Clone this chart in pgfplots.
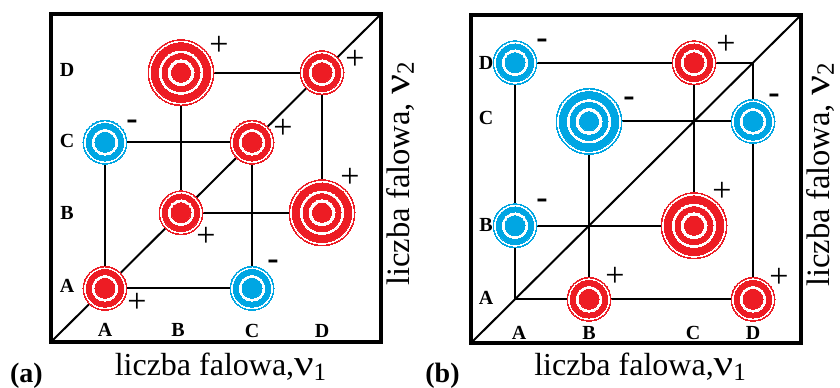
\documentclass[border=0pt]{standalone}
\usepackage{fontspec}
\setmainfont{Liberation Serif}
\usepackage{graphicx}
\usepackage{pgfplots}
\pgfplotsset{compat=1.18}
\usepackage{pgfplotstable}
\definecolor{tred}{RGB}{237,28,36}
\definecolor{tblue}{RGB}{0,166,227}

% panel (a) targets: x y
\pgfplotstableread{
x y
54 54
130 130
201 201
271 271
}\aRedN
\pgfplotstableread{
x y
130 271
271 130
}\aRedB
\pgfplotstableread{
x y
201 54
54 201
}\aBlueN
% panel (b) targets
\pgfplotstableread{
x y
118 44
282 44
223 282
}\bRedN
\pgfplotstableread{
x y
223 118
}\bRedB
\pgfplotstableread{
x y
44 282
44 118
282 223
}\bBlueN
\pgfplotstableread{
x y
118 223
}\bBlueB

\newcommand\ring[3]{\addplot[#3, only marks, mark=*, mark size=#2, mark options={draw=#3, fill=#3, line width=0pt, solid}] table {#1};}
\newcommand\normtarget[2]{\ring{#1}{11pt}{#2}\ring{#1}{10.2pt}{white}\ring{#1}{9.4pt}{#2}\ring{#1}{6.4pt}{white}\ring{#1}{5pt}{#2}}
\newcommand\bigtarget[2]{\ring{#1}{16.5pt}{#2}\ring{#1}{15.7pt}{white}\ring{#1}{14.9pt}{#2}\ring{#1}{10.8pt}{white}\ring{#1}{9.5pt}{#2}\ring{#1}{6.5pt}{white}\ring{#1}{4.8pt}{#2}}

\newcommand\nulab[1]{\scalebox{1.35}[1.15]{ν}\raisebox{-0.15em}{\fontsize{12.5}{12}\selectfont #1}}
\newcommand\plus{\fontsize{17}{17}\selectfont +}
\newcommand\minus{\fontsize{17}{17}\selectfont\bfseries -}

\pgfplotsset{panel/.style={
  scale only axis, width=165pt, height=164pt,
  xmin=0, xmax=330, ymin=0, ymax=330,
  xtick=\empty, ytick=\empty, clip=false,
  axis line style={line width=1.6pt},
  every node/.append style={inner sep=0pt},
}}

\begin{document}
\begin{tikzpicture}
\useasboundingbox (0,0) rectangle (420pt,193.5pt);
% ---------------- panel (a)
\begin{axis}[panel, at={(25.5pt,22.5pt)}, anchor=south west]
\addplot[black, line width=1pt] coordinates {(0,0) (330,330)};
\addplot[black, line width=0.9pt] coordinates {(54,54) (201,54) (201,201) (54,201) (54,54)};
\addplot[black, line width=0.9pt] coordinates {(130,130) (271,130) (271,271) (130,271) (130,130)};
\normtarget{\aRedN}{tred}
\bigtarget{\aRedB}{tred}
\normtarget{\aBlueN}{tblue}
% signs
\node at (86,39) {\plus};
\node at (222,78) {\minus};
\node at (155,106) {\plus};
\node at (299,165) {\plus};
\node at (81,219) {\minus};
\node at (232,214) {\plus};
\node at (168,298) {\plus};
\node at (304,284) {\plus};
% letters
\begin{scope}[every node/.append style={font=\bfseries\fontsize{10}{10}\selectfont}]
\node at (16,56) {A};
\node at (16,130) {B};
\node at (16,202) {C};
\node at (16,274) {D};
\node at (54,12) {A};
\node at (127,12) {B};
\node at (201,11) {C};
\node at (271,11) {D};
\end{scope}
\node[anchor=base, font=\fontsize{16}{18}\selectfont] at (169.5,-34) {liczba falowa,\nulab{1}};
\node[anchor=base, rotate=90, font=\fontsize{16.3}{18}\selectfont] at (358,169) {liczba falowa, \nulab{2}};
\node[anchor=base, font=\bfseries\fontsize{14}{16}\selectfont] at (-24.5,-41) {(a)};
\end{axis}
% ---------------- panel (b)
\begin{axis}[panel, at={(235.5pt,22pt)}, anchor=south west]
\addplot[black, line width=1pt] coordinates {(0,0) (330,330)};
\addplot[black, line width=1.1pt] coordinates {(44,44) (282,44) (282,282) (44,282) (44,44)};
\addplot[black, line width=1.1pt] coordinates {(118,223) (282,223)};
\addplot[black, line width=1.1pt] coordinates {(44,118) (223,118)};
\addplot[black, line width=1.1pt] coordinates {(118,44) (118,223)};
\addplot[black, line width=1.1pt] coordinates {(223,118) (223,282)};
\normtarget{\bRedN}{tred}
\bigtarget{\bRedB}{tred}
\normtarget{\bBlueN}{tblue}
\bigtarget{\bBlueB}{tblue}
% signs
\node at (71,301) {\minus};
\node at (255,300) {\plus};
\node at (158,243) {\minus};
\node at (303,246) {\minus};
\node at (71,140) {\minus};
\node at (251,152) {\plus};
\node at (144,67) {\plus};
\node at (308,66) {\plus};
% letters
\begin{scope}[every node/.append style={font=\bfseries\fontsize{10}{10}\selectfont}]
\node at (15,45) {A};
\node at (15,119) {B};
\node at (15,226) {C};
\node at (15,282) {D};
\node at (48,10) {A};
\node at (118,10) {B};
\node at (222,10) {C};
\node at (282,10) {D};
\end{scope}
\node[anchor=base, font=\fontsize{16}{18}\selectfont] at (169,-33) {liczba falowa,\nulab{1}};
\node[anchor=base, rotate=90, font=\fontsize{16.3}{18}\selectfont] at (358,169) {liczba falowa, \nulab{2}};
\node[anchor=base, font=\bfseries\fontsize{14}{16}\selectfont] at (-28.5,-40) {(b)};
\end{axis}
\end{tikzpicture}
\end{document}
